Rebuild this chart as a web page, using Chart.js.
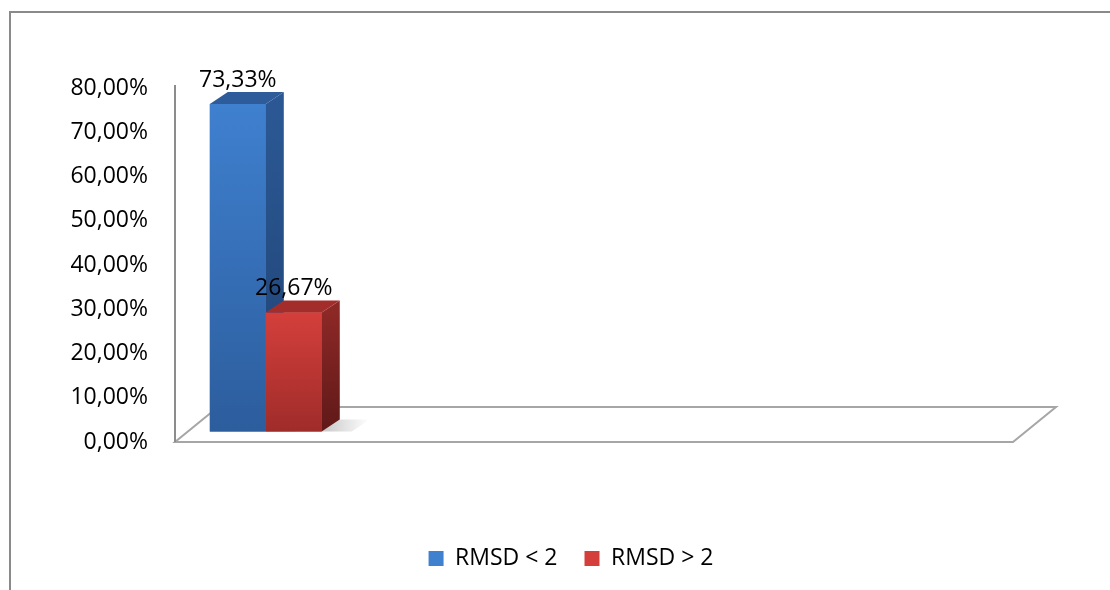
<!DOCTYPE html>
<html>
<head>
<meta charset="utf-8">
<script src="https://cdn.jsdelivr.net/npm/chart.js@4.4.1/dist/chart.umd.min.js"></script>
<style>
  html, body { margin: 0; padding: 0; background: #fff; overflow: hidden; }
  .marco { position: absolute; left: 9px; top: 11px; width: 1300px; height: 800px; border: 2px solid #8a8a8a; }
  .contenedor { position: absolute; left: 0; top: 0; width: 1110px; height: 590px; }
</style>
</head>
<body>
<div class="marco"></div>
<div class="contenedor"><canvas id="grafico"></canvas></div>
<script>
// datos
var categorias = ['', '', '', '', ''];
var series = ['RMSD < 2', 'RMSD > 2'];
var valoresMenor = [73.33, null, null, null, null];
var valoresMayor = [26.67, null, null, null, null];
var ticksY = [0, 10, 20, 30, 40, 50, 60, 70, 80];

// colores de las caras (frente arriba, frente abajo, lado arriba, lado abajo, tapa)
var caras = [
    ['#3f80cf', '#2c5d9d', '#2b5894', '#1f4374', '#2e5c9a'],
    ['#d43f3b', '#9f2c2a', '#8c2826', '#5f1918', '#a32d2b']
];

var PROF_X = 18, PROF_Y = 12;   // profundidad de las barras
var PISO_X = 43, PISO_Y = 35;   // profundidad del piso
var DESP = 7;                   // plano de barras respecto al frente
var CORRER_LEYENDA = 56;        // leyenda centrada como en Excel
var FUENTE = { family: 'Open Sans', size: 23 };

function formato(v) {
    return v.toFixed(2).replace('.', ',') + '%';
}

var efecto3d = {
    id: 'efecto3d',
    afterLayout: function (chart) {
        chart.legend.left += CORRER_LEYENDA;
        chart.legend.right += CORRER_LEYENDA;
    },
    beforeDatasetsDraw: function (chart) {
        var ctx = chart.ctx, a = chart.chartArea;
        var y0 = chart.scales.y.getPixelForValue(0);
        var xi = a.left - DESP, xd = a.right - DESP;
        ctx.save();
        // piso
        ctx.beginPath();
        ctx.moveTo(xi, y0);
        ctx.lineTo(xd, y0);
        ctx.lineTo(xd + PISO_X, y0 - PISO_Y);
        ctx.lineTo(xi + PISO_X, y0 - PISO_Y);
        ctx.closePath();
        ctx.fillStyle = '#ffffff';
        ctx.fill();
        ctx.strokeStyle = '#a6a6a6';
        ctx.lineWidth = 2;
        ctx.stroke();
        // eje vertical
        ctx.beginPath();
        ctx.moveTo(xi, chart.scales.y.getPixelForValue(80) - 3);
        ctx.lineTo(xi, y0);
        ctx.strokeStyle = '#8c8c8c';
        ctx.stroke();
        ctx.restore();
    },
    afterDatasetsDraw: function (chart) {
        var ctx = chart.ctx;
        ctx.save();
        // sombras en el piso
        chart.data.datasets.forEach(function (ds, i) {
            chart.getDatasetMeta(i).data.forEach(function (bar, j) {
                if (ds.data[j] == null) return;
                var x2 = bar.x + bar.width / 2, yb = bar.base;
                var gs = ctx.createLinearGradient(x2, 0, x2 + PROF_X + 30, 0);
                gs.addColorStop(0, 'rgba(0,0,0,0.22)');
                gs.addColorStop(1, 'rgba(0,0,0,0)');
                ctx.beginPath();
                ctx.moveTo(x2, yb);
                ctx.lineTo(x2 + PROF_X, yb - PROF_Y);
                ctx.lineTo(x2 + PROF_X + 30, yb - PROF_Y);
                ctx.lineTo(x2 + 30, yb);
                ctx.closePath();
                ctx.fillStyle = gs;
                ctx.fill();
            });
        });
        chart.data.datasets.forEach(function (ds, i) {
            var meta = chart.getDatasetMeta(i);
            var c = caras[i];
            meta.data.forEach(function (bar, j) {
                if (ds.data[j] == null) return;
                var x1 = bar.x - bar.width / 2, x2 = bar.x + bar.width / 2;
                var yt = bar.y, yb = bar.base;
                // frente
                var g = ctx.createLinearGradient(0, yt, 0, yb);
                g.addColorStop(0, c[0]);
                g.addColorStop(1, c[1]);
                ctx.fillStyle = g;
                ctx.fillRect(x1, yt, x2 - x1, yb - yt);
                // lado
                var gl = ctx.createLinearGradient(0, yt, 0, yb);
                gl.addColorStop(0, c[2]);
                gl.addColorStop(1, c[3]);
                ctx.beginPath();
                ctx.moveTo(x2, yt);
                ctx.lineTo(x2 + PROF_X, yt - PROF_Y);
                ctx.lineTo(x2 + PROF_X, yb - PROF_Y);
                ctx.lineTo(x2, yb);
                ctx.closePath();
                ctx.fillStyle = gl;
                ctx.fill();
                // tapa
                ctx.beginPath();
                ctx.moveTo(x1, yt);
                ctx.lineTo(x1 + PROF_X, yt - PROF_Y);
                ctx.lineTo(x2 + PROF_X, yt - PROF_Y);
                ctx.lineTo(x2, yt);
                ctx.closePath();
                ctx.fillStyle = c[4];
                ctx.fill();
                // etiqueta
                ctx.fillStyle = '#000';
                ctx.font = FUENTE.size + 'px "' + FUENTE.family + '"';
                ctx.textAlign = 'center';
                ctx.textBaseline = 'alphabetic';
                ctx.fillText(formato(ds.data[j]), bar.x, yt - PROF_Y - 5);
            });
        });
        ctx.restore();
    }
};

var ctx = document.getElementById('grafico').getContext('2d');
var miGrafico = new Chart(ctx, {
    type: 'bar',
    data: {
        labels: categorias,
        datasets: [{
            label: series[0],
            data: valoresMenor,
            backgroundColor: caras[0][0],
            yAxisID: 'yb'
        }, {
            label: series[1],
            data: valoresMayor,
            backgroundColor: caras[1][0],
            yAxisID: 'yb'
        }]
    },
    options: {
        responsive: true,
        maintainAspectRatio: false,
        animation: false,
        categoryPercentage: 0.668,
        barPercentage: 1,
        layout: {
            padding: { left: 10, right: 90, top: 88, bottom: 10 }
        },
        plugins: {
            tooltip: { enabled: false },
            legend: {
                position: 'bottom',
                labels: {
                    boxWidth: 15,
                    boxHeight: 15,
                    padding: 27,
                    color: '#000',
                    font: FUENTE
                }
            }
        },
        scales: {
            x: {
                grid: { display: false },
                border: { display: false },
                ticks: { display: false },
                afterFit: function (s) { s.height = 78; }
            },
            y: {
                position: 'left',
                min: 0,
                max: 80,
                afterBuildTicks: function (s) {
                    s.ticks = ticksY.map(function (v) { return { value: v }; });
                },
                grid: { display: false, drawTicks: false },
                border: { display: false },
                ticks: {
                    padding: 34,
                    color: '#000',
                    font: FUENTE,
                    callback: function (v) { return formato(v); }
                },
                afterFit: function (s) { s.width = 172; }
            },
            yb: {
                display: false,
                min: -2.34,
                max: 76.9
            }
        }
    },
    plugins: [efecto3d]
});
</script>
</body>
</html>
